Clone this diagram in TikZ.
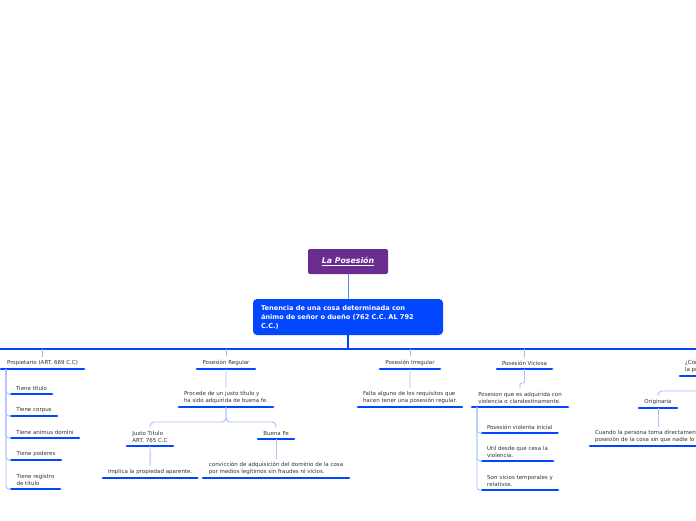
\documentclass[tikz,border=0pt]{standalone}
\usepackage{fontspec}
\setmainfont{DejaVu Sans}
\usepackage{tikz}
\usepackage{xcolor}
\definecolor{mblue}{HTML}{0047FF}
\definecolor{mmid}{HTML}{5A86FF}
\definecolor{mlblue}{HTML}{A9C0FF}
\definecolor{mpurple}{HTML}{6A2C91}
\definecolor{mink}{HTML}{333333}
\tikzset{
  rootbox/.style={fill=mpurple,rounded corners=2pt,text=white,minimum width=80pt,minimum height=25pt,font=\fontsize{7.8}{9}\selectfont\bfseries\itshape},
  mainbox/.style={fill=mblue,rounded corners=4pt,text=white,text width=174pt,inner xsep=8pt,inner ysep=0pt,minimum height=36pt,align=left,font=\fontsize{6.6}{9}\selectfont\bfseries},
  topic/.style={font=\fontsize{5.5}{6.8}\selectfont,text=mink,inner xsep=5pt,inner ysep=3.5pt,outer sep=0pt,minimum width=#1pt,align=left,anchor=south west,
    append after command={(\tikzlastnode.south west) edge[ubar] (\tikzlastnode.south east)}},
  ubar/.style={draw=mblue,line width=2.6pt,line cap=round},
  link/.style={draw=mlblue,line width=0.9pt},
  spine/.style={draw=mblue,line width=1.3pt},
}

\begin{document}
\begin{tikzpicture}[x=1pt,y=-1pt]
  % page
  \fill[white] (0,0) rectangle (696,520);
  \useasboundingbox (0,0) rectangle (696,520);
  \clip (0,0) rectangle (696,520);
  % centre
  \node[rootbox] (pos) at (348,261.5) {\underline{La Posesión}};
  \node[mainbox] (ten) at (348,317) {Tenencia de una cosa determinada con\\ánimo de señor o dueño (762 C.C. AL 792\\C.C.)};
  \coordinate (bus) at (348,349);
  \draw[mmid,line width=1pt] (pos) -- (ten);
  \draw[spine] (ten) -- (bus);
  \draw[spine] (0,349) -- (696,349);
  % first level
  \node[topic=83] (prop) at (1,369) {Propietario (ART. 669 C.C)};
  \node[topic=58] (reg) at (197,369) {Posesión Regular};
  \node[topic=60] (irr) at (380,369) {Posesión Irregular};
  \node[topic=55] (vic) at (497,369) {Posesión Viciosa};
  \node[topic=10] (como) at (680,376) {¿Cómo se adquiere\\la posesión?};
  \foreach \n in {prop,reg,irr,vic,como}
    \draw[link] (\n.north |- bus) -- (\n.north);
  % propietario
  \node[topic=41] (tit) at (11,394) {Tiene título};
  \node[topic=46] (cor) at (11,416) {Tiene corpus};
  \node[topic=68] (ani) at (11,438) {Tiene animus domini};
  \node[topic=50] (pod) at (11,460) {Tiene poderes};
  \node[topic=49] (regis) at (11,489) {Tiene registro\\de título};
  \foreach \n in {tit,cor,ani,pod,regis}
    \draw[link,rounded corners=3pt] ([xshift=5pt]prop.south west) |- (\n.south west);
  % regular
  \node[topic=94] (proc) at (179,407) {Procede de un justo título y\\ha sido adquirida de buena fe.};
  \draw[link] (reg.south) -- (proc.north);
  \node[topic=46] (justo) at (127,446) {Justo Título\\ART. 765 C.C};
  \node[topic=36] (buena) at (258,439) {Buena Fe};
  \foreach \n in {justo,buena}
    \draw[link,rounded corners=4pt] (proc.south) -- ++(0,15) -| (\n.north);
  \node[topic=94] (impl) at (103,478) {Implica la propiedad aparente.};
  \node[topic=146] (conv) at (203,478) {convicción de adquisición del dominio de la cosa\\por medios legítimos sin fraudes ni vicios.};
  \draw[link] (justo.south) -- (impl.north);
  \draw[link] (buena.south) -- (conv.north);
  % irregular
  \node[topic=104] (falta) at (358,407) {Falta alguno de los requisitos que\\hacen tener una posesión regular.};
  \draw[link] (irr.south) -- (falta.north);
  % viciosa
  \node[topic=96] (adq) at (472,407) {Posesion que es adquirida con\\violencia o clandestinamente.};
  \draw[link,rounded corners=2pt] (vic.south) -- ++(0,14) -| (adq.north);
  \node[topic=75] (vio) at (482,433) {Posesión violenta inicial};
  \node[topic=71] (util) at (482,461) {Util desde que cesa la\\violencia.};
  \node[topic=76] (temp) at (482,490) {Son vicios temporales y\\relativos.};
  \foreach \n in {vio,util,temp}
    \draw[link,rounded corners=3pt] ([xshift=5pt]adq.south west) |- (\n.south west);
  % como se adquiere
  \node[topic=38] (orig) at (639,408) {Originaria};
  \draw[link,rounded corners=4pt] (como.south) -- ++(0,15) -| (orig.north);
  \node[topic=10] (cuando) at (590,446) {Cuando la persona toma directamente la\\posesión de la cosa sin que nadie lo impida.};
  \draw[link] (orig.south) -- (orig.south |- cuando.north);
\end{tikzpicture}
\end{document}
